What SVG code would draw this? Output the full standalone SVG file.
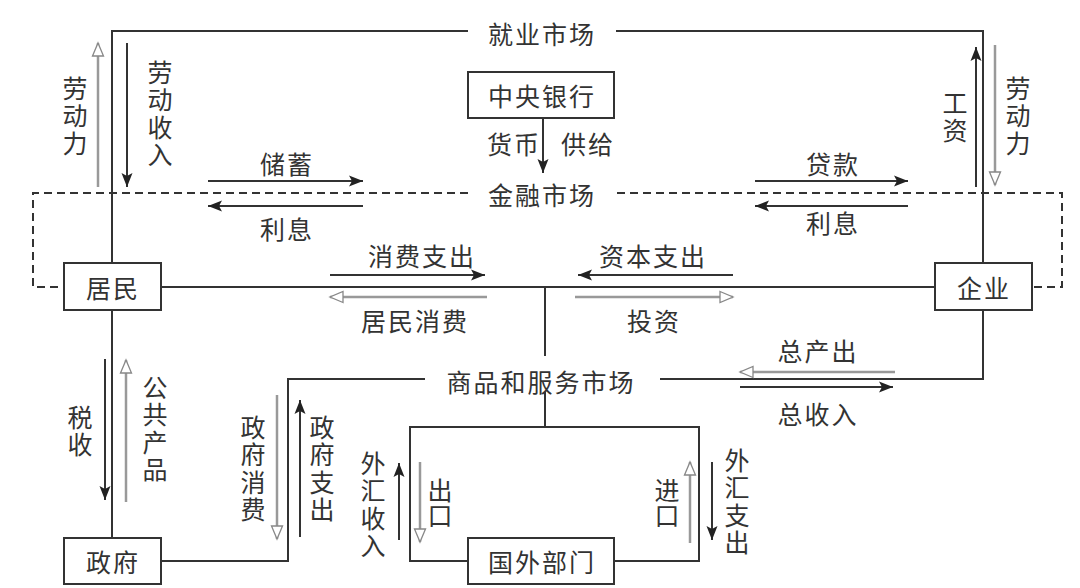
<svg xmlns="http://www.w3.org/2000/svg" width="1080" height="588" viewBox="0 0 1080 588">
<style>
.ln{fill:none;stroke:#333;stroke-width:2}
.dash{fill:none;stroke:#333;stroke-width:2;stroke-dasharray:8,5}
.sa{fill:none;stroke:#333;stroke-width:2;marker-end:url(#solid)}
.ha{fill:none;stroke:#999;stroke-width:2.5;marker-end:url(#hollow)}
.box{fill:#fff;stroke:#333;stroke-width:2}
text{font-family:"Noto Sans CJK SC","Noto Sans CJK TC",sans-serif;font-size:25px;fill:#333;text-anchor:middle;dominant-baseline:central}
.h{letter-spacing:2px}
.v{writing-mode:vertical-rl;text-orientation:upright;text-anchor:start;letter-spacing:2.5px}
</style>
<defs>
<marker id="solid" markerUnits="userSpaceOnUse" markerWidth="16" markerHeight="12" refX="14" refY="6" orient="auto">
<path d="M0,0.5 L14,6 L0,11.5 L3,6 z" fill="#222"/>
</marker>
<marker id="hollow" markerUnits="userSpaceOnUse" markerWidth="16" markerHeight="14" refX="14" refY="7" orient="auto">
<path d="M1,1.5 L14,7 L1,12.5 z" fill="#fff" stroke="#888" stroke-width="1.3"/>
</marker>
</defs>
<g id="connectors">
<path class="ln" d="M468,31 H112 V263"/>
<path class="ln" d="M112,310 V538"/>
<path class="ln" d="M616,31 H983 V263"/>
<path class="ln" d="M983,310 V379 H660"/>
<path class="ln" d="M161,287 H935"/>
<path class="ln" d="M545,287 V356"/>
<path class="ln" d="M425,379 H288 V561 H161"/>
<path class="ln" d="M545,392 V427"/>
<path class="ln" d="M468,561 H410 V427 H699 V561 H614"/>
<path class="dash" d="M468,193 H33 V287 H64"/>
<path class="dash" d="M617,193 H1062 V287 H1032"/>
<path class="sa" d="M543,118 V173"/>
<path class="ha" d="M98,187 V43"/>
<path class="sa" d="M127,43 V187"/>
<path class="sa" d="M976,187 V47"/>
<path class="ha" d="M995,45 V185"/>
<path class="sa" d="M208,181 H363"/>
<path class="sa" d="M363,206 H208"/>
<path class="sa" d="M755,181 H908"/>
<path class="sa" d="M908,206 H755"/>
<path class="sa" d="M330,275 H485"/>
<path class="sa" d="M733,275 H578"/>
<path class="ha" d="M487,297 H330"/>
<path class="ha" d="M575,297 H733"/>
<path class="ha" d="M895,372 H740"/>
<path class="sa" d="M740,387 H893"/>
<path class="sa" d="M105,359 V500"/>
<path class="ha" d="M126,502 V360"/>
<path class="ha" d="M277,395 V539"/>
<path class="sa" d="M300,537 V400"/>
<path class="sa" d="M399,540 V463"/>
<path class="ha" d="M420,462 V542"/>
<path class="ha" d="M690,543 V462"/>
<path class="sa" d="M712,462 V540"/>
</g>
<g id="labels">
<text class="h" x="542" y="33">就业市场</text>
<text class="h" x="542" y="194">金融市场</text>
<text class="h" x="541" y="381">商品和服务市场</text>
<text class="h" x="514" y="143">货币</text>
<text class="h" x="588" y="143">供给</text>
<text class="h" x="287" y="163">储蓄</text>
<text class="h" x="287" y="228">利息</text>
<text class="h" x="833" y="163">贷款</text>
<text class="h" x="833" y="222">利息</text>
<text class="h" x="422" y="255">消费支出</text>
<text class="h" x="653" y="255">资本支出</text>
<text class="h" x="415" y="320">居民消费</text>
<text class="h" x="654" y="320">投资</text>
<text class="h" x="818" y="350">总产出</text>
<text class="h" x="818" y="413">总收入</text>
<text class="v" x="75" y="75.5">劳动力</text>
<text class="v" x="160" y="59.5">劳动收入</text>
<text class="v" x="955" y="90.5">工资</text>
<text class="v" x="1018" y="75.5">劳动力</text>
<text class="v" x="80" y="404.5">税收</text>
<text class="v" x="155" y="374.5">公共产品</text>
<text class="v" x="253" y="414.5">政府消费</text>
<text class="v" x="322" y="414.5">政府支出</text>
<text class="v" x="373" y="450.5">外汇收入</text>
<text class="v" x="440" y="477.5" style="letter-spacing:0">出口</text>
<text class="v" x="667" y="477.5" style="letter-spacing:0">进口</text>
<text class="v" x="737" y="447.5">外汇支出</text>
</g>
<g id="central-bank">
<rect class="box" x="468" y="72" width="146" height="46"/>
<text class="h" x="542" y="95">中央银行</text>
</g>
<g id="households">
<rect class="box" x="64" y="263" width="97" height="47"/>
<text class="h" x="113" y="287">居民</text>
</g>
<g id="firms">
<rect class="box" x="935" y="263" width="97" height="47"/>
<text class="h" x="984" y="287">企业</text>
</g>
<g id="government">
<rect class="box" x="64" y="538" width="97" height="46"/>
<text class="h" x="113" y="561">政府</text>
</g>
<g id="foreign">
<rect class="box" x="468" y="538" width="146" height="46"/>
<text class="h" x="542" y="561">国外部门</text>
</g>
</svg>
